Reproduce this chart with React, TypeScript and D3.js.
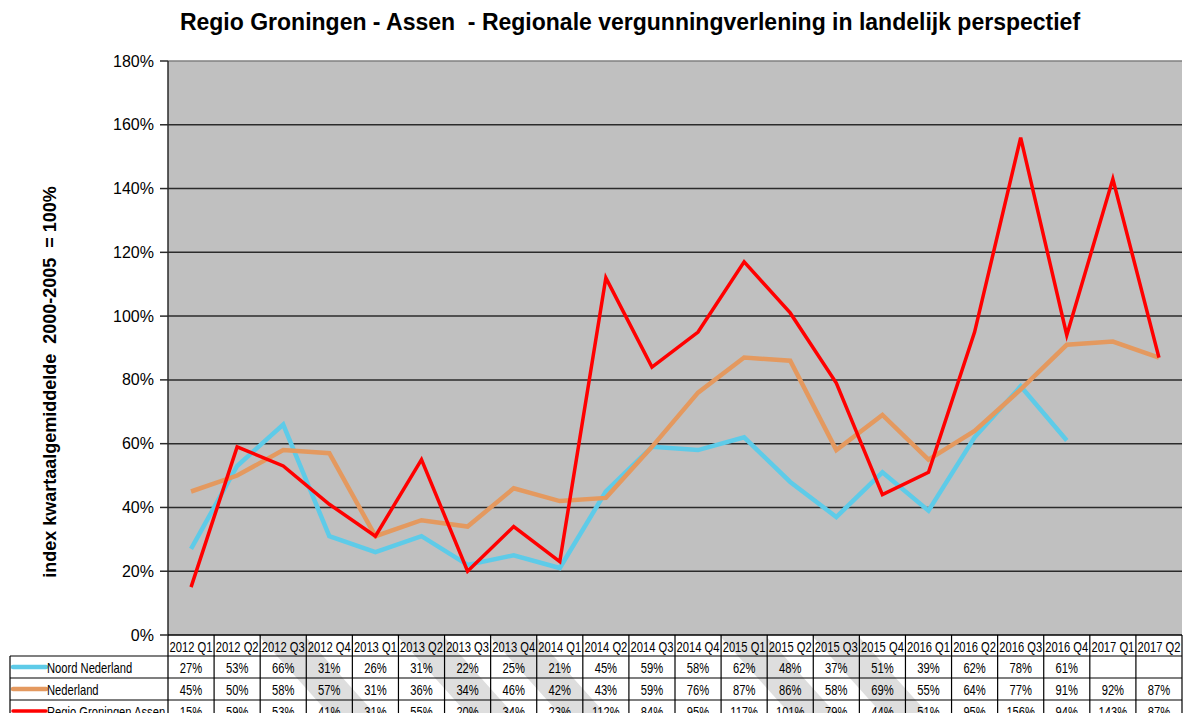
import React from "react"
import * as d3 from "d3"

const quarters = [
  "2012 Q1", "2012 Q2", "2012 Q3", "2012 Q4",
  "2013 Q1", "2013 Q2", "2013 Q3", "2013 Q4",
  "2014 Q1", "2014 Q2", "2014 Q3", "2014 Q4",
  "2015 Q1", "2015 Q2", "2015 Q3", "2015 Q4",
  "2016 Q1", "2016 Q2", "2016 Q3", "2016 Q4",
  "2017 Q1", "2017 Q2",
]

const noordNederland: (number | null)[] = [
  27, 53, 66, 31, 26, 31, 22, 25, 21, 45, 59, 58, 62, 48, 37, 51, 39, 62, 78, 61, null, null,
]
const nederland: (number | null)[] = [
  45, 50, 58, 57, 31, 36, 34, 46, 42, 43, 59, 76, 87, 86, 58, 69, 55, 64, 77, 91, 92, 87,
]
const groningenAssen: (number | null)[] = [
  15, 59, 53, 41, 31, 55, 20, 34, 23, 112, 84, 95, 117, 101, 79, 44, 51, 95, 156, 94, 143, 87,
]

const yTicks = [0, 20, 40, 60, 80, 100, 120, 140, 160, 180]

// quarters where a faint watermark stripe starts in the table header
const watermarkStarts = ["2012 Q3", "2013 Q2", "2013 Q4", "2015 Q1", "2015 Q3"]

const series = [
  { name: "Noord Nederland", values: noordNederland, color: "#5ECBE8", width: 4.5 },
  { name: "Nederland", values: nederland, color: "#E4995F", width: 4.5 },
  { name: "Regio Groningen Assen", values: groningenAssen, color: "#FF0000", width: 3.5 },
]

const W = 1183
const H = 713
const left = 168
const right = 1182
const top = 61
const bottom = 635
const headerH = 21
const rowH = 22
const font = "'Liberation Sans', Arial, sans-serif"
const squeeze = 0.8

const App = () => {
  const x = d3.scaleBand().domain(quarters).range([left, right]).padding(0)
  const y = d3.scaleLinear().domain([0, 180]).range([bottom, top])
  const cx = (q: string) => (x(q) as number) + x.bandwidth() / 2

  const line = d3
    .line<number | null>()
    .defined((d) => d !== null)
    .x((_, i) => cx(quarters[i]))
    .y((d) => y(d as number))

  const tableTop = bottom
  const rowsTop = tableTop + headerH

  // narrow cell text, like the condensed font of the original table
  const cell = (tx: number, ty: number, label: string, anchor = "middle", key?: string | number) => (
    <text
      key={key}
      transform={`translate(${tx},${ty}) scale(${squeeze},1)`}
      dy="0.36em"
      textAnchor={anchor}
    >
      {label}
    </text>
  )

  return (
    <svg width={W} height={H} style={{ display: "block", position: "absolute", left: 0, top: 0, background: "#fff" }}>
      <text
        x={630}
        y={30}
        textAnchor="middle"
        fontFamily={font}
        fontWeight="bold"
        fontSize={23}
        style={{ whiteSpace: "pre" }}
      >
        {"Regio Groningen - Assen  - Regionale vergunningverlening in landelijk perspectief"}
      </text>

      <text
        transform={`translate(56,382) rotate(-90)`}
        textAnchor="middle"
        fontFamily={font}
        fontWeight="bold"
        fontSize={18}
        style={{ whiteSpace: "pre" }}
      >
        {"index kwartaalgemiddelde  2000-2005  = 100%"}
      </text>

      <rect x={left} y={top} width={right - left} height={bottom - top} fill="#C0C0C0" />
      <line x1={left} x2={right} y1={top} y2={top} stroke="#808080" strokeWidth={1.5} />
      {yTicks.map((t) => (
        <g key={t}>
          {t > 0 && t < 180 && (
            <line x1={left} x2={right} y1={y(t)} y2={y(t)} stroke="#2b2b2b" strokeWidth={1.5} />
          )}
          <line x1={160} x2={left} y1={y(t)} y2={y(t)} stroke="#2b2b2b" strokeWidth={1.5} />
          <text
            x={154}
            y={y(t)}
            dy="0.35em"
            textAnchor="end"
            fontFamily={font}
            fontSize={16}
          >
            {t}%
          </text>
        </g>
      ))}
      <line x1={left} x2={left} y1={top} y2={H} stroke="#2b2b2b" strokeWidth={1.5} />

      {series.map((s) => (
        <path
          key={s.name}
          d={line(s.values) || ""}
          fill="none"
          stroke={s.color}
          strokeWidth={s.width}
          strokeLinejoin="miter"
        />
      ))}

      {/* faint watermark stripes behind the table */}
      <g fill="#dedede">
        {watermarkStarts.map((q) => {
          const x0 = (x(q) as number) - 2
          const run = 70
          const w = 46
          return (
            <polygon
              key={q}
              points={`${x0},${tableTop} ${x0 + w},${tableTop} ${x0 + w + run},${H} ${x0 + run},${H}`}
            />
          )
        })}
      </g>

      {/* data table */}
      <g fontFamily={font} fontSize={14}>
        {quarters.map((q) => cell(cx(q), tableTop + headerH / 2 + 1, q, "middle", q))}
        {series.map((s, r) => {
          const ry = rowsTop + r * rowH + rowH / 2 + 1
          return (
            <g key={s.name}>
              <line
                x1={13}
                x2={46}
                y1={ry - 1}
                y2={ry - 1}
                stroke={s.color}
                strokeWidth={s.width}
                strokeLinecap="round"
              />
              {cell(47, ry, s.name, "start")}
              {s.values.map((v, i) =>
                v === null ? null : cell(cx(quarters[i]), ry, `${v}%`, "middle", i)
              )}
            </g>
          )
        })}
      </g>
      <g stroke="#000" strokeWidth={1.2}>
        {quarters.map((q) => (
          <line key={q} x1={(x(q) as number) + x.bandwidth()} x2={(x(q) as number) + x.bandwidth()} y1={tableTop} y2={H} />
        ))}
        <line x1={left} x2={right} y1={tableTop} y2={tableTop} strokeWidth={1.5} />
        {[0, 1, 2, 3].map((r) => (
          <line key={r} x1={10} x2={right} y1={rowsTop + r * rowH} y2={rowsTop + r * rowH} />
        ))}
        <line x1={10} x2={10} y1={rowsTop} y2={H} />
      </g>
    </svg>
  )
}

export default App
